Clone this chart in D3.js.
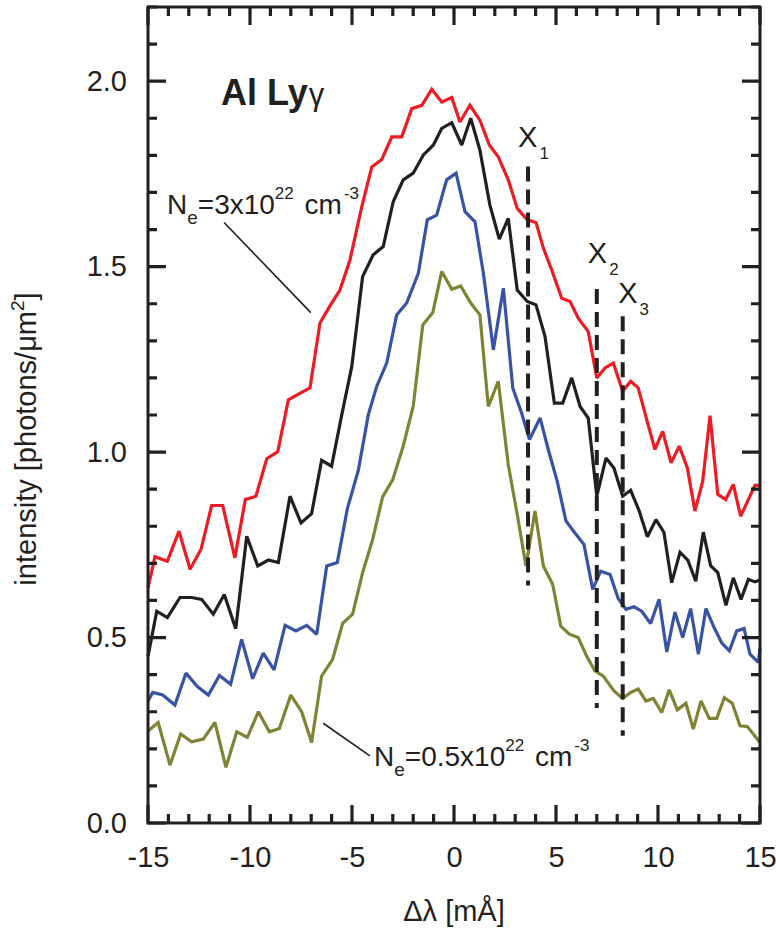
<!DOCTYPE html>
<html>
<head>
<meta charset="utf-8">
<script src="https://cdnjs.cloudflare.com/ajax/libs/d3/7.8.5/d3.min.js"></script>
<style>
  body { margin: 0; background: #fff; }
  text { font-family: "Liberation Sans", Arial, sans-serif; fill: #231f20; }
</style>
</head>
<body>
<div id="chart"></div>
<script>
// spectra: [delta lambda (mA), intensity]
var redLine = [[-15.0,0.634],[-14.66,0.718],[-14.05,0.706],[-13.48,0.787],[-12.94,0.684],[-12.40,0.738],[-11.88,0.856],[-11.34,0.856],[-10.74,0.715],[-10.23,0.872],[-9.71,0.881],[-9.18,0.982],[-8.64,1.001],[-8.12,1.141],[-7.60,1.157],[-7.06,1.173],[-6.57,1.348],[-6.08,1.394],[-5.59,1.437],[-5.10,1.518],[-4.52,1.662],[-4.03,1.769],[-3.54,1.789],[-3.05,1.850],[-2.56,1.850],[-2.07,1.926],[-1.58,1.935],[-1.09,1.978],[-0.60,1.944],[-0.11,1.956],[0.29,1.890],[0.78,1.935],[1.27,1.895],[1.73,1.828],[2.17,1.796],[2.66,1.734],[3.10,1.657],[3.59,1.626],[4.02,1.619],[4.38,1.550],[4.79,1.491],[5.28,1.415],[5.69,1.406],[6.09,1.361],[6.58,1.325],[7.00,1.200],[7.40,1.227],[7.81,1.240],[8.27,1.164],[8.66,1.191],[9.03,1.173],[9.45,1.087],[9.85,1.007],[10.23,1.056],[10.64,0.971],[11.04,1.016],[11.44,0.957],[11.81,0.841],[12.19,0.921],[12.55,1.098],[12.93,0.886],[13.32,0.872],[13.69,0.913],[14.05,0.827],[14.43,0.872],[14.75,0.910],[15.0,0.910]];

var blackLine = [[-15.0,0.450],[-14.57,0.571],[-14.05,0.554],[-13.43,0.608],[-12.86,0.608],[-12.37,0.603],[-11.80,0.563],[-11.26,0.616],[-10.70,0.524],[-10.16,0.773],[-9.62,0.693],[-9.10,0.709],[-8.61,0.702],[-8.04,0.881],[-7.50,0.809],[-6.98,0.834],[-6.49,0.978],[-6.00,0.962],[-5.50,1.101],[-5.01,1.231],[-4.48,1.473],[-3.96,1.532],[-3.47,1.554],[-2.98,1.675],[-2.49,1.734],[-2.00,1.752],[-1.50,1.801],[-1.01,1.828],[-0.60,1.873],[-0.11,1.888],[0.38,1.828],[0.82,1.900],[1.27,1.814],[1.76,1.666],[2.22,1.574],[2.66,1.630],[3.10,1.437],[3.59,1.406],[4.02,1.397],[4.46,1.312],[4.92,1.132],[5.33,1.132],[5.77,1.200],[6.18,1.123],[6.58,1.092],[7.00,0.881],[7.45,0.984],[7.84,0.957],[8.27,0.881],[8.66,0.897],[9.08,0.841],[9.48,0.772],[9.90,0.818],[10.29,0.784],[10.67,0.648],[11.08,0.730],[11.46,0.709],[11.85,0.652],[12.22,0.784],[12.58,0.694],[12.93,0.675],[13.33,0.587],[13.69,0.661],[14.07,0.603],[14.43,0.657],[14.75,0.650],[15.0,0.655]];

var blueLine = [[-15.0,0.329],[-14.77,0.352],[-14.28,0.345],[-13.68,0.318],[-13.14,0.404],[-12.58,0.368],[-12.04,0.345],[-11.50,0.398],[-10.95,0.374],[-10.41,0.495],[-9.87,0.389],[-9.35,0.458],[-8.82,0.413],[-8.28,0.533],[-7.75,0.518],[-7.22,0.533],[-6.73,0.509],[-6.24,0.693],[-5.72,0.702],[-5.23,0.847],[-4.69,0.951],[-4.20,1.101],[-3.79,1.177],[-3.30,1.240],[-2.81,1.370],[-2.32,1.402],[-1.75,1.482],[-1.31,1.626],[-0.85,1.639],[-0.36,1.734],[0.10,1.752],[0.54,1.648],[1.03,1.621],[1.44,1.482],[1.93,1.276],[2.42,1.442],[2.88,1.173],[3.31,1.106],[3.70,1.034],[4.22,1.092],[4.62,1.007],[5.06,0.921],[5.49,0.814],[5.93,0.782],[6.37,0.751],[6.80,0.630],[7.19,0.679],[7.65,0.670],[8.05,0.605],[8.43,0.576],[8.82,0.583],[9.20,0.571],[9.64,0.538],[10.05,0.603],[10.43,0.461],[10.83,0.569],[11.21,0.500],[11.60,0.578],[11.98,0.455],[12.35,0.578],[12.75,0.527],[13.12,0.486],[13.50,0.464],[13.86,0.518],[14.22,0.524],[14.51,0.455],[14.92,0.433],[15.0,0.473]];

var oliveLine = [[-15.0,0.248],[-14.50,0.271],[-13.92,0.156],[-13.40,0.240],[-12.86,0.219],[-12.29,0.226],[-11.72,0.271],[-11.18,0.150],[-10.65,0.246],[-10.13,0.231],[-9.59,0.300],[-9.05,0.246],[-8.56,0.255],[-8.00,0.345],[-7.47,0.300],[-6.98,0.217],[-6.49,0.396],[-5.95,0.441],[-5.46,0.538],[-4.97,0.563],[-4.48,0.675],[-3.99,0.764],[-3.50,0.879],[-3.00,0.926],[-2.49,1.016],[-2.00,1.123],[-1.53,1.343],[-1.04,1.376],[-0.60,1.487],[-0.11,1.439],[0.33,1.448],[0.82,1.402],[1.27,1.370],[1.68,1.123],[2.17,1.191],[2.66,0.966],[3.10,0.832],[3.53,0.693],[3.97,0.841],[4.38,0.693],[4.84,0.643],[5.23,0.531],[5.65,0.509],[6.09,0.500],[6.50,0.450],[6.91,0.410],[7.32,0.396],[7.84,0.356],[8.27,0.336],[8.66,0.352],[9.03,0.361],[9.41,0.329],[9.77,0.336],[10.18,0.298],[10.55,0.359],[10.95,0.305],[11.37,0.323],[11.73,0.253],[12.11,0.329],[12.51,0.282],[12.88,0.282],[13.25,0.338],[13.64,0.323],[14.02,0.262],[14.38,0.260],[15.0,0.217]];

// dashed position markers X1..X3: x, bottom, top
var markerNames = ["1", "2", "3"];
var markerX = [3.63, 7.0, 8.27];
var markerLow = [0.64, 0.31, 0.235];
var markerHigh = [1.77, 1.44, 1.366];

var xMajor = [-15, -10, -5, 0, 5, 10, 15];
var yMajor = [0.0, 0.5, 1.0, 1.5, 2.0];

var svgWidth = 776;
var svgHeight = 934;
var margin = {top: 7, right: 16, bottom: 111, left: 148};
var width = svgWidth - margin.left - margin.right;
var height = svgHeight - margin.top - margin.bottom;

var ink = "#231f20";

var svg = d3.select("#chart").append("svg")
  .attr("width", svgWidth)
  .attr("height", svgHeight);

var chart = svg.append("g")
  .attr("transform", `translate(${margin.left}, ${margin.top})`);

var x = d3.scaleLinear().domain([-15, 15]).range([0, width]);
var y = d3.scaleLinear().domain([0, 2.2]).range([height, 0]);

var lineGen = d3.line()
  .x(d => x(d[0]))
  .y(d => y(d[1]));

var series = [
  {pts: redLine, color: "#ed1c24"},
  {pts: blackLine, color: ink},
  {pts: blueLine, color: "#3953a4"},
  {pts: oliveLine, color: "#7f8434"}
];

chart.append("g")
  .selectAll("path")
  .data(series)
  .enter()
  .append("path")
  .attr("d", d => lineGen(d.pts))
  .attr("fill", "none")
  .attr("stroke", d => d.color)
  .attr("stroke-width", 3.2)
  .attr("stroke-linejoin", "miter")
  .attr("stroke-miterlimit", 2);

// dashed markers
chart.append("g").selectAll("line")
  .data(markerX)
  .enter()
  .append("line")
  .attr("x1", d => x(d))
  .attr("x2", d => x(d))
  .attr("y1", (d, i) => y(markerHigh[i]))
  .attr("y2", (d, i) => y(markerLow[i]))
  .attr("stroke", ink)
  .attr("stroke-width", 4)
  .attr("stroke-dasharray", "15,8");

// tick labels from the d3 axes
function styleAxis(g) {
  g.select(".domain").remove();
  g.selectAll(".tick line").remove();
  g.selectAll(".tick text").attr("font-size", "29px").attr("fill", ink);
}

chart.append("g").attr("transform", `translate(0, ${height})`)
  .call(d3.axisBottom(x).tickValues(xMajor).tickSize(0).tickPadding(23).tickFormat(d => String(d)))
  .call(styleAxis);
chart.append("g")
  .call(d3.axisLeft(y).tickValues(yMajor).tickSize(0).tickPadding(21).tickFormat(d3.format(".1f")))
  .call(styleAxis);

// marker labels X1, X2, X3
var labelDx = [-10, -9, -4.5];
var labelDy = [-19, -26, -13];
markerX.forEach(function(mx, i) {
  var t = chart.append("text")
    .attr("x", x(mx) + labelDx[i])
    .attr("y", y(markerHigh[i]) + labelDy[i])
    .attr("font-size", "29px");
  t.append("tspan").text("X");
  t.append("tspan").attr("font-size", "17px").attr("dy", 12).attr("dx", 2).text(markerNames[i]);
});

// panel title
var panelTitle = chart.append("text")
  .attr("x", x(-11.42))
  .attr("y", y(1.935))
  .attr("font-size", "36px")
  .attr("font-weight", "bold");
panelTitle.append("tspan").text("Al Ly");
panelTitle.append("tspan").attr("font-weight", "normal").attr("font-size", "31px").attr("dx", 1).text("γ");

// density annotations
function densityLabel(px, py, value) {
  var t = chart.append("text").attr("x", px).attr("y", py).attr("font-size", "28px");
  t.append("tspan").text("N");
  t.append("tspan").attr("font-size", "19px").attr("dy", 10).text("e");
  t.append("tspan").attr("dy", -10).text("=" + value + "x10");
  t.append("tspan").attr("font-size", "17px").attr("dy", -15).text("22");
  t.append("tspan").attr("dy", 15).attr("dx", 3).text(" cm");
  t.append("tspan").attr("font-size", "17px").attr("dy", -15).attr("dx", 2).text("-3");
}
densityLabel(x(-14.07), y(1.642), "3");
densityLabel(x(-3.92), y(0.153), "0.5");

chart.append("line")
  .attr("x1", x(-11.27)).attr("y1", y(1.619))
  .attr("x2", x(-7.02)).attr("y2", y(1.376))
  .attr("stroke", ink).attr("stroke-width", 1.6);
chart.append("line")
  .attr("x1", x(-6.41)).attr("y1", y(0.269))
  .attr("x2", x(-4.12)).attr("y2", y(0.181))
  .attr("stroke", ink).attr("stroke-width", 1.6);

// axis titles
svg.append("text")
  .attr("x", margin.left + width / 2)
  .attr("y", 921)
  .attr("text-anchor", "middle")
  .attr("font-size", "29px")
  .text("Δλ [mÅ]");

var yTitle = svg.append("text")
  .attr("transform", "translate(36, 439) rotate(-90)")
  .attr("text-anchor", "middle")
  .attr("font-size", "29px");
yTitle.append("tspan").text("intensity [photons/μm");
yTitle.append("tspan").attr("font-size", "19px").attr("dy", -12).text("2");
yTitle.append("tspan").attr("dy", 12).text("]");

// frame
chart.append("rect")
  .attr("width", width)
  .attr("height", height)
  .attr("fill", "none")
  .attr("stroke", ink)
  .attr("stroke-width", 3);

// inward ticks on all four sides, drawn last as one path per side
var xMinor = d3.range(-15, 16, 1);
var yMinor = d3.range(0, 23).map(d => d / 10);
var tickLen = major => (major ? 18 : 9);
var isMajorX = d => xMajor.indexOf(d) >= 0;
var isMajorY = d => Math.abs(d * 2 - Math.round(d * 2)) < 1e-6;

var bottomD = xMinor.map(d => `M${x(d)},${height}V${height - tickLen(isMajorX(d))}`).join("");
var topD = xMinor.map(d => `M${x(d)},0V${tickLen(isMajorX(d))}`).join("");
var leftD = yMinor.map(d => `M0,${y(d)}H${tickLen(isMajorY(d))}`).join("");
var rightD = yMinor.map(d => `M${width},${y(d)}H${width - tickLen(isMajorY(d))}`).join("");

chart.append("g")
  .selectAll("path")
  .data([bottomD, topD, leftD, rightD])
  .enter()
  .append("path")
  .attr("d", d => d)
  .attr("fill", "none")
  .attr("stroke", ink)
  .attr("stroke-width", 3.2);
</script>
</body>
</html>
